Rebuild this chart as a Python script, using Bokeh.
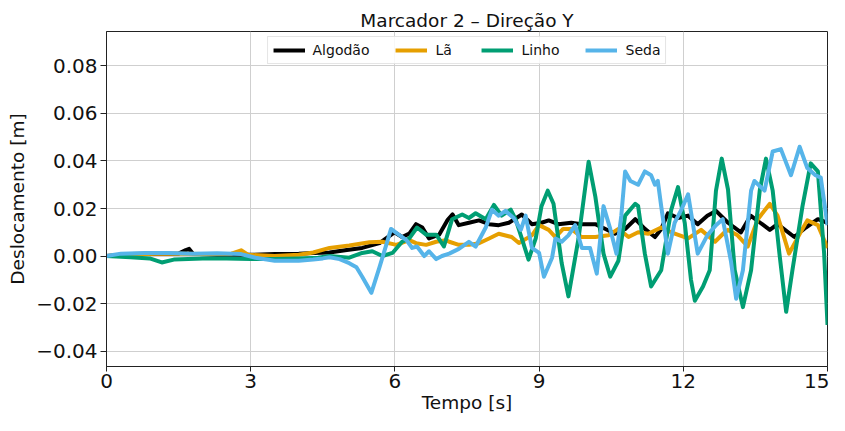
from bokeh.plotting import figure
from bokeh.models import Range1d, FixedTicker, Legend, LegendItem
from bokeh.embed import file_html
from bokeh.resources import INLINE

# ---------------- data ----------------
series_names = ["Algodão", "Lã", "Linho", "Seda"]
series_colors = ["#000000", "#E69F00", "#009E73", "#56B4E9"]

algodao_t = [0, 0.5, 1.0, 1.5, 1.65, 1.72, 1.8, 2.3, 3.0, 3.5, 4.0, 4.3, 4.64, 5.0, 5.32,
             5.68, 5.99, 6.15, 6.3, 6.44, 6.57, 6.71, 6.92, 7.09, 7.2, 7.33, 7.54, 7.75,
             7.96, 8.16, 8.37, 8.64, 8.85, 9.05, 9.2, 9.4, 9.67, 9.88, 10.17, 10.38, 10.58,
             10.79, 11.0, 11.2, 11.41, 11.54, 11.68, 11.89, 12.1, 12.3, 12.5, 12.68, 12.93,
             13.2, 13.4, 13.6, 13.8, 13.96, 14.31, 14.55, 14.8, 15.0]
algodao_y = [0.0, 0.0008, 0.001, 0.001, 0.0025, 0.003, 0.001, 0.0005, 0.0005, 0.0008, 0.001,
             0.0013, 0.0015, 0.0025, 0.0034, 0.0054, 0.010, 0.008, 0.0094, 0.0134, 0.012,
             0.0074, 0.009, 0.015, 0.0175, 0.013, 0.014, 0.015, 0.0134, 0.013, 0.014, 0.0175,
             0.0134, 0.014, 0.015, 0.0134, 0.014, 0.0134, 0.0134, 0.0114, 0.0094, 0.0114,
             0.0155, 0.0114, 0.008, 0.0114, 0.018, 0.016, 0.017, 0.0134, 0.017, 0.019, 0.014,
             0.010, 0.017, 0.014, 0.011, 0.0134, 0.008, 0.012, 0.0155, 0.014]

la_t = [0, 0.5, 1.0, 1.5, 2.0, 2.6, 2.8, 2.95, 3.5, 4.0, 4.3, 4.64, 5.05, 5.47, 5.74, 6.03,
        6.3, 6.44, 6.65, 6.86, 7.06, 7.13, 7.33, 7.54, 7.75, 7.96, 8.16, 8.43, 8.58, 8.85,
        9.0, 9.2, 9.34, 9.5, 9.67, 9.88, 10.17, 10.44, 10.65, 10.86, 11.06, 11.27, 11.54,
        11.75, 12.1, 12.37, 12.66, 12.86, 12.93, 13.13, 13.34, 13.55, 13.8, 13.96, 14.2,
        14.44, 14.58, 14.8, 15.0]
la_y = [0.0, 0.0005, 0.001, 0.001, 0.0008, 0.001, 0.0024, 0.0005, 0.0, 0.0005, 0.0015,
        0.0034, 0.0044, 0.0058, 0.006, 0.0047, 0.0067, 0.0054, 0.0047, 0.006, 0.0067, 0.006,
        0.0047, 0.0047, 0.0054, 0.0074, 0.0094, 0.008, 0.0055, 0.0087, 0.013, 0.011, 0.008,
        0.0114, 0.0114, 0.008, 0.008, 0.0087, 0.0114, 0.008, 0.010, 0.0094, 0.012, 0.010,
        0.0074, 0.011, 0.006, 0.010, 0.011, 0.0087, 0.004, 0.0155, 0.022, 0.017, 0.001,
        0.010, 0.015, 0.013, 0.0034]

linho_t = [0, 0.5, 0.9, 1.15, 1.4, 2.0, 2.5, 3.0, 3.5, 4.0, 4.4, 4.64, 5.05, 5.32, 5.53,
           5.74, 5.95, 6.15, 6.3, 6.46, 6.65, 6.86, 7.02, 7.19, 7.4, 7.54, 7.68, 7.89, 8.06,
           8.22, 8.41, 8.51, 8.64, 8.78, 8.93, 9.05, 9.18, 9.3, 9.47, 9.61, 9.82, 10.03,
           10.17, 10.34, 10.48, 10.65, 10.79, 11.0, 11.06, 11.2, 11.33, 11.54, 11.75, 11.89,
           12.03, 12.16, 12.24, 12.41, 12.55, 12.68, 12.8, 12.93, 13.07, 13.24, 13.41, 13.59,
           13.72, 13.86, 14.0, 14.14, 14.27, 14.48, 14.65, 14.8, 14.93, 15.0]
linho_y = [0.0, -0.0005, -0.001, -0.0027, -0.0015, -0.001, -0.001, -0.0013, -0.0013, -0.001,
           -0.0007, 0.0, -0.0007, 0.0013, 0.002, 0.0, 0.0013, 0.006, 0.0074, 0.012, 0.009,
           0.009, 0.004, 0.0155, 0.0175, 0.016, 0.018, 0.0155, 0.0215, 0.017, 0.0195, 0.0155,
           0.0074, -0.0015, 0.0074, 0.021, 0.0275, 0.022, -0.003, -0.017, 0.0074, 0.0397,
           0.025, 0.001, -0.0087, -0.002, 0.017, 0.022, 0.021, 0.001, -0.0128, -0.006, 0.0195,
           0.029, 0.014, -0.010, -0.0188, -0.0128, -0.006, 0.0275, 0.041, 0.028, -0.006,
           -0.0215, -0.006, 0.0275, 0.041, 0.0275, 0.001, -0.0235, -0.006, 0.021, 0.039,
           0.0356, 0.001, -0.029]

seda_t = [0, 0.3, 0.8, 1.3, 1.8, 2.3, 2.8, 3.1, 3.5, 4.0, 4.3, 4.5, 4.64, 4.85, 5.05, 5.2,
          5.32, 5.51, 5.68, 5.82, 5.92, 6.05, 6.24, 6.36, 6.46, 6.61, 6.71, 6.86, 6.98, 7.13,
          7.33, 7.54, 7.68, 7.89, 8.02, 8.16, 8.3, 8.47, 8.62, 8.72, 8.85, 9.0, 9.1, 9.27,
          9.34, 9.47, 9.61, 9.75, 9.89, 10.06, 10.2, 10.34, 10.48, 10.61, 10.71, 10.79, 10.9,
          11.06, 11.2, 11.33, 11.41, 11.47, 11.54, 11.68, 11.82, 11.96, 12.1, 12.3, 12.5,
          12.68, 12.82, 12.99, 13.1, 13.24, 13.41, 13.48, 13.69, 13.86, 14.03, 14.24, 14.42,
          14.58, 14.75, 14.86, 15.0]
seda_y = [0.0, 0.001, 0.0013, 0.0013, 0.001, 0.0012, 0.0008, -0.0007, -0.002, -0.002,
          -0.0015, -0.001, -0.0005, -0.0013, -0.003, -0.0047, -0.0087, -0.0155, -0.0047,
          0.0047, 0.0114, 0.0094, 0.0067, 0.0034, 0.004, 0.0, 0.002, -0.0013, 0.0, 0.001,
          0.003, 0.006, 0.004, 0.012, 0.0195, 0.017, 0.019, 0.016, 0.011, 0.017, 0.0034,
          0.0013, -0.0087, -0.0007, 0.0074, 0.006, 0.0087, 0.013, 0.0034, 0.0034, -0.0074,
          0.021, 0.0114, 0.001, 0.017, 0.0356, 0.0316, 0.030, 0.0356, 0.034, 0.030, 0.0316,
          0.021, 0.001, 0.014, 0.0195, 0.026, 0.001, 0.0087, 0.013, 0.0155, -0.002, -0.018,
          -0.006, 0.0275, 0.0316, 0.0275, 0.044, 0.045, 0.034, 0.046, 0.037, 0.034, 0.033,
          0.013]

x_ticks = [0, 3, 6, 9, 12, 15]
y_ticks = [-0.04, -0.02, 0.0, 0.02, 0.04, 0.06, 0.08]
y_tick_labels = ["\u22120.04", "\u22120.02", "0.00", "0.02", "0.04", "0.06", "0.08"]

title_text = "Marcador 2 \u2013 Direção Y"
x_label = "Tempo [s]"
y_label = "Deslocamento [m]"

# ---------------- figure ----------------
FONT = "DejaVu Sans"
p = figure(width=829, height=415, output_backend="svg", toolbar_location=None,
           x_range=Range1d(0, 15), y_range=Range1d(-0.0465, 0.0945),
           min_border_left=106, min_border_right=2, min_border_top=31,
           min_border_bottom=40, background_fill_color="white",
           border_fill_color="white")

p.title.text = title_text
p.title.align = "center"
p.title.text_font = FONT
p.title.text_font_size = "18.5px"
p.title.text_font_style = "normal"
p.title.text_color = "#111111"
p.title.standoff = 1

p.outline_line_color = "#222222"
p.outline_line_width = 1

for ax in (p.xaxis[0], p.yaxis[0]):
    ax.axis_line_color = "#222222"
    ax.major_tick_line_color = "#222222"
    ax.major_tick_in = 0
    ax.minor_tick_line_color = None
    ax.major_label_text_font = FONT
    ax.major_label_text_font_size = "20px"
    ax.major_label_text_color = "#111111"
    ax.axis_label_text_font = FONT
    ax.axis_label_text_font_size = "18.5px"
    ax.axis_label_text_font_style = "normal"
    ax.axis_label_text_color = "#111111"

p.xaxis.major_tick_out = 5
p.xaxis.major_label_standoff = 2
p.xaxis.axis_label_standoff = 1
p.yaxis.major_tick_out = 6
p.yaxis.major_label_standoff = 3
p.yaxis.axis_label_standoff = 5

p.xaxis.ticker = FixedTicker(ticks=x_ticks)
p.yaxis.ticker = FixedTicker(ticks=y_ticks)
p.yaxis.major_label_overrides = {v: s for v, s in zip(y_ticks, y_tick_labels)}
p.xaxis.axis_label = x_label
p.yaxis.axis_label = y_label

p.grid.grid_line_color = "#cfcfcf"
p.grid.grid_line_width = 1

all_t = [algodao_t, la_t, linho_t, seda_t]
all_y = [algodao_y, la_y, linho_y, seda_y]
items = []
for name, color, t, y in zip(series_names, series_colors, all_t, all_y):
    r = p.line(t, y, line_width=4, line_color=color, line_join="round")
    items.append(LegendItem(label=name, renderers=[r]))

legend = Legend(items=items, orientation="horizontal", location="top",
                glyph_width=32, glyph_height=16, label_standoff=8, spacing=26,
                padding=5, margin=5, border_line_color="#cccccc",
                background_fill_alpha=0.85,
                label_text_font=FONT, label_text_font_size="14px",
                label_text_color="#111111")
p.add_layout(legend)

open("out.html", "w").write(file_html(p, INLINE))
